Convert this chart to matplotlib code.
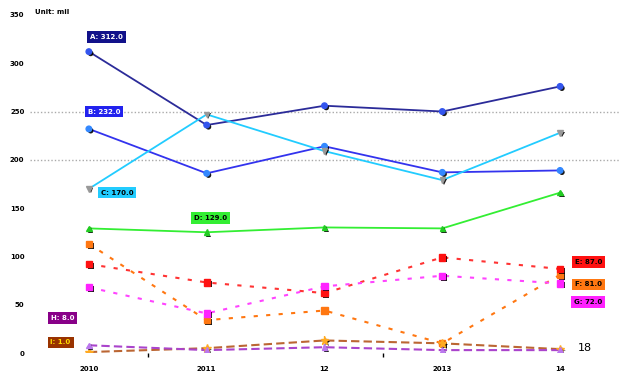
import matplotlib
matplotlib.use("Agg")
import matplotlib.pyplot as plt
import matplotlib.patheffects as pe

# categories and values
periods = ["2010", "2011", "12", "2013", "14"]
y_ticks = [0, 50, 100, 150, 200, 250, 300, 350]
ref_lines = [250, 200]

navy = [312, 236, 256, 250, 276]
blue = [232, 186, 214, 187, 189]
cyan = [170, 247, 209, 179, 228]
green = [129, 125, 130, 129, 166]
orange = [113, 34, 44, 10, 81]
red = [92, 73, 62, 99, 87]
magenta = [68, 41, 69, 80, 72]
brown = [1, 5, 13, 10, 4]
purple = [8, 3, 6, 3, 3]

labels = {
    "navy": "A: 312.0",
    "blue": "B: 232.0",
    "cyan": "C: 170.0",
    "green": "D: 129.0",
    "red": "E: 87.0",
    "orange": "F: 81.0",
    "magenta": "G: 72.0",
    "purple": "H: 8.0",
    "brown": "I: 1.0",
}

fig = plt.figure(figsize=(6.31, 3.73), dpi=100)
ax = fig.add_axes([0.0475, 0.0536, 0.9335, 0.9064])

x = range(len(periods))
shadow = [pe.SimplePatchShadow(offset=(1.3, -1.3), shadow_rgbFace="black", alpha=0.9), pe.Normal()]

def draw(vals, color, ls, marker, mcolor, ms=4, lw=1.3):
    ax.plot(x, vals, color=color, ls=ls, lw=lw, zorder=3)
    ax.plot(x, vals, ls="none", marker=marker, ms=ms, mfc=mcolor, mec=mcolor,
            path_effects=shadow, zorder=4)

draw(navy, "#2b2b99", "-", "o", "#3355ee")
draw(blue, "#3333ee", "-", "o", "#3388ff")
draw(cyan, "#22ccff", "-", "v", "#999999")
draw(green, "#33ee33", "-", "^", "#22cc22")
draw(orange, "#ff7711", (0, (2, 4)), "s", "#ff7711", ms=4.5, lw=1.5)
draw(red, "#ff3333", (0, (2, 4)), "s", "#ff1111", ms=4.5, lw=1.5)
draw(magenta, "#ff44ff", (0, (2, 4)), "s", "#ff22ff", ms=4.5, lw=1.5)
draw(brown, "#bb6633", (0, (4, 2)), "*", "#ffaa22", ms=6, lw=1.5)
draw(purple, "#aa44cc", (0, (4, 2)), "^", "#bb77ee", ms=4, lw=1.5)

for v in ref_lines:
    ax.axhline(v, color="#aaaaaa", ls=(0, (1, 1.5)), lw=1, zorder=1)

def tag(px, py, key, fc, tc):
    ax.text(px, py, labels[key], fontsize=5, color=tc, ha="center", va="center",
            fontweight="bold", clip_on=False, zorder=5,
            bbox=dict(boxstyle="square,pad=0.4", fc=fc, ec="none"))

tag(0.15, 327, "navy", "#11118a", "white")
tag(0.13, 250, "blue", "#2222ee", "white")
tag(0.24, 166, "cyan", "#22ccff", "black")
tag(1.03, 140, "green", "#33ee33", "black")
tag(4.24, 94, "red", "#ff1111", "black")
tag(4.24, 71, "orange", "#ff7711", "black")
tag(4.24, 53, "magenta", "#ff22ff", "black")
tag(-0.22, 36, "purple", "#880088", "white")
tag(-0.24, 11, "brown", "#993300", "#ffdd00")

ax.set_xlim(-0.5, 4.5)
ax.set_ylim(0, 350)
ax.set_xticks(list(x))
ax.set_xticklabels(periods, fontsize=5, fontweight="bold")
ax.set_xticks([0.5, 2.5], minor=True)
ax.tick_params(axis="x", which="major", length=0, pad=9)
ax.tick_params(axis="x", which="minor", length=3, color="black", width=1)
ax.set_yticks(y_ticks)
ax.set_yticklabels([str(t) for t in y_ticks], fontsize=5, fontweight="bold")
ax.tick_params(axis="y", length=0, pad=4)
for s in ax.spines.values():
    s.set_visible(False)

fig.text(0.055, 0.968, "Unit: mil", fontsize=5, fontweight="bold", va="center")
fig.text(0.915, 0.067, "18", fontsize=8, va="center")

fig.savefig("out.png", dpi=100)
